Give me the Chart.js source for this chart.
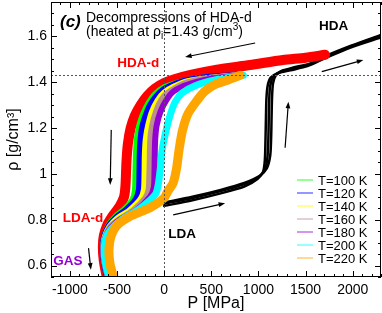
<!DOCTYPE html>
<html>
<head>
<meta charset="utf-8">
<script src="https://cdn.jsdelivr.net/npm/chart.js@4/dist/chart.umd.min.js"></script>
<style>
html, body { margin: 0; padding: 0; background: #fff; }
</style>
</head>
<body>
<canvas id="c" width="382" height="313"></canvas>
<script>
// tick labels
const xMajor = [-1000, -500, 0, 500, 1000, 1500, 2000];
const yMajor = [0.6, 0.8, 1.0, 1.2, 1.4, 1.6];
const refRho = 1.43;

// legend
const tempLabels = ['T=100 K', 'T=120 K', 'T=140 K', 'T=160 K', 'T=180 K', 'T=200 K', 'T=220 K'];
const tempColors = ['#00ff00', '#0000ff', '#ffff00', '#bc8f8f', '#9400d3', '#00ffff', '#ffa500'];

// HDA-d decompression at low T (red, not in legend)
const redP   = [1707, 1500, 1260, 910, 560, 280, 100, 0, -100, -180, -250, -310, -355, -385, -400, -410, -425, -470, -540, -600, -640, -650, -640, -610];
const redRho = [1.52, 1.507, 1.497, 1.475, 1.455, 1.432, 1.412, 1.397, 1.372, 1.34, 1.30, 1.255, 1.20, 1.13, 1.05, 0.95, 0.90, 0.86, 0.82, 0.78, 0.73, 0.68, 0.62, 0.553];

const p100   = [800, 550, 300, 100, 0, -100, -170, -230, -270, -295, -305, -310, -315, -340, -420, -520, -590, -640, -652, -642, -615];
const rho100 = [1.43, 1.428, 1.415, 1.395, 1.38, 1.35, 1.31, 1.26, 1.21, 1.15, 1.08, 1.0, 0.93, 0.89, 0.85, 0.815, 0.78, 0.73, 0.68, 0.62, 0.553];

const p120   = [790, 500, 250, 100, 0, -80, -150, -200, -235, -252, -259, -262, -268, -300, -400, -510, -585, -635, -650, -640, -610];
const rho120 = [1.43, 1.425, 1.41, 1.39, 1.37, 1.34, 1.30, 1.25, 1.20, 1.14, 1.08, 1.0, 0.93, 0.89, 0.845, 0.81, 0.775, 0.73, 0.675, 0.62, 0.553];

const p140   = [780, 500, 250, 100, 0, -70, -130, -170, -195, -205, -208, -215, -250, -370, -500, -580, -630, -645, -635, -600];
const rho140 = [1.43, 1.42, 1.405, 1.38, 1.355, 1.32, 1.27, 1.21, 1.15, 1.08, 1.0, 0.93, 0.89, 0.84, 0.805, 0.77, 0.725, 0.675, 0.62, 0.553];

const p160   = [790, 500, 250, 100, 0, -60, -110, -140, -150, -153, -158, -165, -200, -330, -480, -570, -625, -640, -630, -595];
const rho160 = [1.43, 1.42, 1.40, 1.37, 1.34, 1.30, 1.24, 1.18, 1.12, 1.05, 0.98, 0.93, 0.895, 0.84, 0.80, 0.77, 0.725, 0.675, 0.62, 0.553];

const p180   = [800, 500, 250, 100, 20, -40, -80, -95, -100, -103, -110, -150, -300, -470, -565, -625, -645, -635, -600];
const rho180 = [1.43, 1.415, 1.39, 1.36, 1.32, 1.27, 1.21, 1.15, 1.08, 1.0, 0.94, 0.90, 0.84, 0.80, 0.765, 0.72, 0.67, 0.62, 0.553];

const p200   = [840, 540, 330, 190, 117, 64, 22, -21, -42, -63, -95, -254, -450, -560, -620, -635, -625, -590];
const rho200 = [1.43, 1.41, 1.385, 1.353, 1.314, 1.257, 1.192, 1.105, 1.018, 0.952, 0.909, 0.85, 0.80, 0.76, 0.72, 0.67, 0.615, 0.553];

const p220   = [806, 680, 540, 430, 330, 250, 195, 160, 130, 95, 40, 0, -150, -360, -500, -565, -585, -575, -540];
const rho220 = [1.43, 1.41, 1.39, 1.36, 1.31, 1.26, 1.19, 1.11, 1.02, 0.96, 0.925, 0.895, 0.852, 0.815, 0.775, 0.725, 0.67, 0.61, 0.553];

// LDA compression runs (black)
const ldaP1   = [0, 300, 600, 850, 990, 1050, 1068, 1075, 1080, 1085, 1098, 1130, 1200, 1340, 1520, 1710, 1970, 2300];
const ldaRho1 = [0.86, 0.885, 0.915, 0.945, 0.978, 1.01, 1.06, 1.15, 1.25, 1.33, 1.385, 1.42, 1.438, 1.452, 1.47, 1.505, 1.55, 1.595];
const ldaP2   = [0, 300, 600, 850, 1000, 1070, 1095, 1105, 1110, 1115, 1125, 1160, 1230, 1360, 1540, 1720, 1980, 2300];
const ldaRho2 = [0.87, 0.895, 0.925, 0.955, 0.985, 1.02, 1.07, 1.15, 1.25, 1.33, 1.385, 1.425, 1.445, 1.46, 1.477, 1.512, 1.556, 1.603];
const ldaP3   = [0, 300, 600, 850, 1010, 1090, 1125, 1135, 1140, 1145, 1155, 1185, 1250, 1380, 1560, 1730, 1990, 2300];
const ldaRho3 = [0.875, 0.9, 0.93, 0.96, 0.99, 1.025, 1.08, 1.16, 1.26, 1.34, 1.395, 1.43, 1.45, 1.465, 1.483, 1.517, 1.56, 1.606];

// annotations: [P, rho] in data units
const arrows = [
    [[965, 1.571], [222, 1.51]],
    [[1672, 1.446], [2113, 1.497]],
    [[1283, 1.114], [1318, 1.315]],
    [[96, 0.821], [647, 0.872]],
    [[-561, 1.192], [-572, 0.952]],
    [[-802, 0.676], [-777, 0.582]]
];
const labels = [
    ['HDA', 1643, 1.628, '#000'],
    ['HDA-d', -497, 1.467, '#ff0000'],
    ['LDA-d', -1075, 0.791, '#ff0000'],
    ['GAS', -1176, 0.604, '#9400d3'],
    ['LDA', 43, 0.721, '#000']
];

const FONT = "'Liberation Sans', Arial, sans-serif";
Chart.defaults.font.family = FONT;
Chart.defaults.color = '#000';

function pts(px, py) {
    return px.map((v, i) => ({ x: v, y: py[i] }));
}

function line(data, color, width, order) {
    return {
        data: data,
        borderColor: color,
        borderWidth: width,
        pointRadius: 0,
        tension: 0.25,
        fill: false,
        borderJoinStyle: 'round',
        borderCapStyle: 'round',
        order: order
    };
}

const tempSeries = [[p100, rho100], [p120, rho120], [p140, rho140], [p160, rho160], [p180, rho180], [p200, rho200], [p220, rho220]];
const tempWidths = [5, 6, 6, 6, 6, 7, 9];

const datasets = [];
datasets.push(line(pts(ldaP1, ldaRho1), '#000', 2.5, 12));
datasets.push(line(pts(ldaP2, ldaRho2), '#000', 2.5, 11));
datasets.push(line(pts(ldaP3, ldaRho3), '#000', 2.5, 10));
datasets.push(line(pts(redP, redRho), '#ff0000', 10, 9));
tempSeries.forEach((s, i) => {
    const d = line(pts(s[0], s[1]), tempColors[i], tempWidths[i], 7 - i);
    d.label = tempLabels[i];
    datasets.push(d);
});

function arrow(ctx, x1, y1, x2, y2) {
    const ang = Math.atan2(y2 - y1, x2 - x1);
    ctx.beginPath();
    ctx.moveTo(x1, y1);
    ctx.lineTo(x2 - 4 * Math.cos(ang), y2 - 4 * Math.sin(ang));
    ctx.stroke();
    ctx.beginPath();
    ctx.moveTo(x2, y2);
    ctx.lineTo(x2 - 7 * Math.cos(ang - 0.35), y2 - 7 * Math.sin(ang - 0.35));
    ctx.lineTo(x2 - 7 * Math.cos(ang + 0.35), y2 - 7 * Math.sin(ang + 0.35));
    ctx.closePath();
    ctx.fill();
}

const decor = {
    id: 'decor',
    afterDatasetsDraw(chart) {
        const { ctx, chartArea: a, scales: { x, y } } = chart;
        ctx.save();

        // dashed reference lines
        ctx.strokeStyle = '#555';
        ctx.lineWidth = 1;
        ctx.setLineDash([2, 2]);
        const yr = Math.round(y.getPixelForValue(refRho)) + 0.5;
        const x0 = Math.round(x.getPixelForValue(0)) + 0.5;
        ctx.beginPath();
        ctx.moveTo(a.left, yr); ctx.lineTo(a.right, yr);
        ctx.moveTo(x0, a.top); ctx.lineTo(x0, a.bottom);
        ctx.stroke();
        ctx.setLineDash([]);

        // frame + inward ticks on all sides
        ctx.strokeStyle = '#000';
        ctx.lineWidth = 1;
        ctx.strokeRect(a.left + 0.5, a.top + 0.5, a.right - a.left - 1, a.bottom - a.top - 1);
        ctx.beginPath();
        for (let v = -1200; v <= 2300; v += 100) {
            const px = Math.round(x.getPixelForValue(v)) + 0.5;
            const len = v % 500 === 0 ? 6 : 3;
            ctx.moveTo(px, a.bottom); ctx.lineTo(px, a.bottom - len);
            ctx.moveTo(px, a.top); ctx.lineTo(px, a.top + len);
        }
        for (let k = 11; k <= 35; k++) {
            const v = k * 0.05;
            const py = Math.round(y.getPixelForValue(v)) + 0.5;
            const len = k % 4 === 0 ? 6 : 3;
            ctx.moveTo(a.left, py); ctx.lineTo(a.left + len, py);
            ctx.moveTo(a.right, py); ctx.lineTo(a.right - len, py);
        }
        ctx.stroke();

        // arrows
        ctx.fillStyle = '#000';
        ctx.lineWidth = 1.2;
        arrows.forEach(ar => {
            arrow(ctx, x.getPixelForValue(ar[0][0]), y.getPixelForValue(ar[0][1]),
                       x.getPixelForValue(ar[1][0]), y.getPixelForValue(ar[1][1]));
        });

        // labels
        ctx.textBaseline = 'alphabetic';
        ctx.textAlign = 'left';
        ctx.font = 'bold 13.5px ' + FONT;
        labels.forEach(l => {
            ctx.fillStyle = l[3];
            ctx.fillText(l[0], x.getPixelForValue(l[1]), y.getPixelForValue(l[2]));
        });

        // title text
        ctx.fillStyle = '#000';
        ctx.font = 'italic bold 17px ' + FONT;
        ctx.fillText('(c)', 60, 27);
        ctx.font = '14px ' + FONT;
        ctx.fillText('Decompressions of HDA-d', 86, 22);
        let tx = 86;
        const ty = 36;
        const parts = [['(heated at \u03c1', 0, 14], ['i', 3, 10], ['=1.43 g/cm', 0, 14], ['3', -6, 10], [')', 0, 14]];
        parts.forEach(p => {
            ctx.font = p[2] + 'px ' + FONT;
            ctx.fillText(p[0], tx, ty + p[1]);
            tx += ctx.measureText(p[0]).width;
        });

        // legend
        ctx.font = '13px ' + FONT;
        ctx.textBaseline = 'middle';
        tempLabels.forEach((t, i) => {
            const ly = 180 + i * 13;
            ctx.strokeStyle = tempColors[i];
            ctx.globalAlpha = 0.55;
            ctx.lineWidth = 1.5;
            ctx.beginPath();
            ctx.moveTo(297, ly); ctx.lineTo(313, ly);
            ctx.stroke();
            ctx.globalAlpha = 1;
            ctx.fillStyle = '#000';
            ctx.fillText(t, 318, ly + 1);
        });

        ctx.restore();
    }
};

new Chart(document.getElementById('c'), {
    type: 'line',
    data: { datasets: datasets },
    options: {
        responsive: false,
        animation: false,
        layout: { padding: { top: 2, right: 1, left: 0, bottom: 0 } },
        plugins: { legend: { display: false }, tooltip: { enabled: false } },
        scales: {
            x: {
                type: 'linear',
                min: -1200,
                max: 2300,
                afterBuildTicks: s => { s.ticks = xMajor.map(v => ({ value: v })); },
                afterFit: s => { s.height = 36; s.paddingLeft = 0; s.paddingRight = 0; },
                grid: { display: false, drawTicks: false },
                border: { display: false },
                ticks: { font: { size: 14 }, padding: 5, maxRotation: 0, callback: v => String(v) },
                title: { display: true, text: 'P [MPa]', font: { size: 16 }, padding: { top: 13, bottom: 0 } }
            },
            y: {
                type: 'linear',
                min: 0.55,
                max: 1.75,
                afterBuildTicks: s => { s.ticks = yMajor.map(v => ({ value: v })); },
                afterFit: s => { s.width = 51; s.paddingTop = 0; s.paddingBottom = 0; },
                grid: { display: false, drawTicks: false },
                border: { display: false },
                ticks: { font: { size: 14 }, padding: 4, callback: v => String(+v.toFixed(2)) },
                title: { display: true, text: '\u03c1 [g/cm\u00b3]', font: { size: 16 }, padding: { top: 4, bottom: 0 } }
            }
        }
    },
    plugins: [decor]
});
</script>
</body>
</html>
